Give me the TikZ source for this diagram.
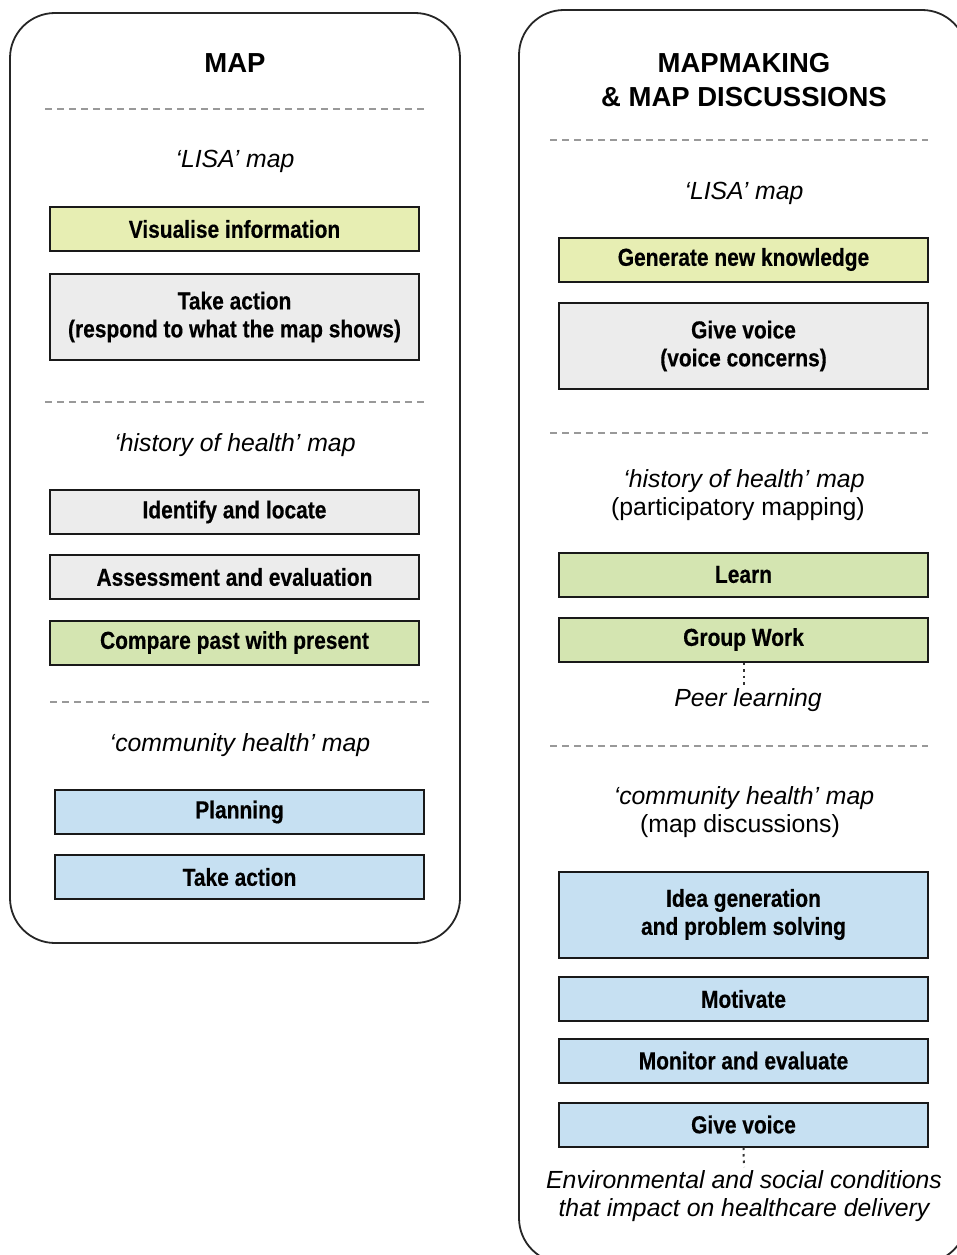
\documentclass[tikz,border=0pt]{standalone}
\usepackage{fontspec}
\setmainfont{Liberation Sans}
\newfontfamily\condbf[FakeStretch=0.855,FakeBold=0.4]{Liberation Sans Bold}
\begin{document}
\begin{tikzpicture}[x=1pt,y=-1pt,
  panel/.style={draw=black!85, line width=1.8pt, rounded corners=45pt},
  sep/.style={draw=black!40, line width=1.4pt, dash pattern=on 7pt off 5pt},
  box/.style={draw=black!90, line width=2pt, minimum width=369pt, minimum height=44pt,
    inner sep=0pt, align=center, font=\condbf\fontsize{24.5}{28}\selectfont},
  hbox/.style={box, minimum height=86pt},
  ylw/.style={fill=lisa},
  gry/.style={fill=plain},
  grn/.style={fill=hist},
  blu/.style={fill=comm},
  title/.style={align=center, font=\bfseries\fontsize{27.5}{34}\selectfont},
  label/.style={anchor=base, font=\itshape\fontsize{24.8}{28}\selectfont},
  plainlabel/.style={anchor=base, font=\fontsize{24.8}{28}\selectfont},
  note/.style={align=center, inner sep=3pt, font=\itshape\fontsize{24.8}{28}\selectfont},
  link/.style={draw=black!80, line width=2pt, dash pattern=on 2.5pt off 4pt}]
\definecolor{lisa}{HTML}{E7EEB3}
\definecolor{plain}{HTML}{ECECEC}
\definecolor{hist}{HTML}{D4E5B1}
\definecolor{comm}{HTML}{C6E0F2}
\useasboundingbox (0,0) rectangle (957,1255);
\begin{scope}
\clip (0,0) rectangle (957,1255);

% ---------- left column: the map ----------
\draw[panel] (10,13) rectangle (460,943);
\node[title] (mapT) at (235,63) {MAP};
\draw[sep] (45,109) -- (425,109);
\node[label] (lisaL) at (235,167) {‘LISA’ map};
\node[box, ylw] (visL) at (234.5,229) {Visualise information};
\node[hbox, gry] (actL) at (234.5,317) {Take action\\(respond to what the map shows)};
\draw[sep] (45,402) -- (425,402);
\node[label] (histL) at (235,451) {‘history of health’ map};
\node[box, gry] (idL) at (234.5,512) {Identify and locate};
\node[box, gry] (assL) at (234.5,577) {Assessment and evaluation};
\node[box, grn] (cmpL) at (234.5,642.5) {Compare past with present};
\draw[sep] (50,702) -- (430,702);
\node[label] (commL) at (240,751) {‘community health’ map};
\node[box, blu] (planL) at (239.5,812) {Planning};
\node[box, blu] (takeL) at (239.5,877) {Take action};

% ---------- right column: mapmaking and map discussions ----------
\draw[panel] (519,10) rectangle (967,1263);
\node[title] (mmT) at (744,80) {MAPMAKING\\\& MAP DISCUSSIONS};
\draw[sep] (550,140) -- (928,140);
\node[label] (lisaR) at (744,199) {‘LISA’ map};
\node[box, ylw] (genR) at (743.5,259.5) {Generate new knowledge};
\node[hbox, gry] (voiceR) at (743.5,346) {Give voice\\(voice concerns)};
\draw[sep] (550,433) -- (928,433);
\node[label] (histR) at (744,487) {‘history of health’ map};
\node[plainlabel] (partR) at (738,515) {(participatory mapping)};
\node[box, grn] (learnR) at (743.5,574.5) {Learn};
\node[box, grn] (groupR) at (743.5,639.5) {Group Work};
\node[note, anchor=north] (peerR) at (748,685) {Peer learning};
\draw[link] (groupR.south) -- (groupR.south |- peerR.north);
\draw[sep] (550,746) -- (928,746);
\node[label] (commR) at (744,804) {‘community health’ map};
\node[plainlabel] (discR) at (740,832) {(map discussions)};
\node[hbox, blu] (ideaR) at (743.5,914.5) {Idea generation\\and problem solving};
\node[box, blu] (motR) at (743.5,999) {Motivate};
\node[box, blu] (monR) at (743.5,1060.5) {Monitor and evaluate};
\node[box, blu] (gvR) at (743.5,1124.5) {Give voice};
\node[note, anchor=north] (envR) at (744,1167) {Environmental and social conditions\\that impact on healthcare delivery};
\draw[link] (gvR.south) -- (envR.north);
\end{scope}
\end{tikzpicture}
\end{document}
